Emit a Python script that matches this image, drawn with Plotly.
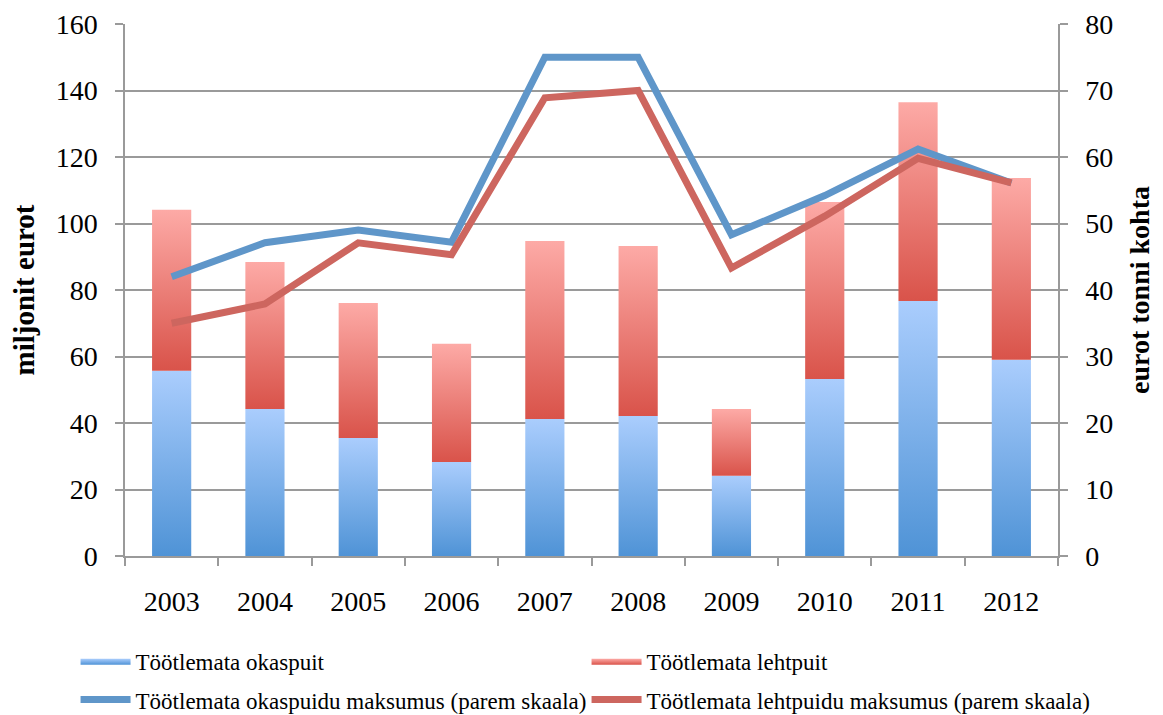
import plotly.graph_objects as go

years = ['2003', '2004', '2005', '2006', '2007', '2008', '2009', '2010', '2011', '2012']
okaspuit = [55.7, 44.2, 35.5, 28.3, 41.2, 42.1, 24.1, 53.2, 76.7, 59.0]
lehtpuit = [48.4, 44.2, 40.6, 35.5, 53.5, 51.1, 20.1, 53.3, 59.8, 54.7]
okas_hind = [42.0, 47.1, 49.0, 47.2, 75.0, 75.0, 48.3, 54.2, 61.2, 56.1]
leht_hind = [35.0, 37.9, 47.1, 45.3, 68.9, 70.0, 43.3, 51.1, 59.8, 56.1]

FONT = 'Liberation Serif'
BAR_W = 0.42
BLUE_SCALE = [[0, '#4f93d6'], [1, '#aacdfd']]
RED_SCALE = [[0, '#d9534a'], [1, '#fdaaa6']]

fig = go.Figure()


def add_bar(i, base, top, name, scale, show):
    x0, x1 = i - BAR_W / 2, i + BAR_W / 2
    fig.add_trace(go.Scatter(
        x=[x0, x1, x1, x0, x0], y=[base, base, top, top, base],
        mode='lines', line=dict(width=0), fill='toself',
        fillgradient=dict(type='vertical', colorscale=scale),
        name=name, legendgroup=name, showlegend=show, hoverinfo='skip',
        legend='legend'))


for i in range(len(years)):
    add_bar(i, 0, okaspuit[i], 'Töötlemata okaspuit', BLUE_SCALE, i == 0)
for i in range(len(years)):
    add_bar(i, okaspuit[i], okaspuit[i] + lehtpuit[i], 'Töötlemata lehtpuit', RED_SCALE, i == 0)

xs = list(range(len(years)))
fig.add_trace(go.Scatter(x=xs, y=okas_hind, yaxis='y2', mode='lines',
                         line=dict(color='#5f96c9', width=7), legend='legend2',
                         name='Töötlemata okaspuidu maksumus (parem skaala)'))
fig.add_trace(go.Scatter(x=xs, y=leht_hind, yaxis='y2', mode='lines',
                         line=dict(color='#cd665f', width=7), legend='legend2',
                         name='Töötlemata lehtpuidu maksumus (parem skaala)'))

axis_common = dict(showline=True, linecolor='#9a9a9a', linewidth=1.5, automargin=False,
                   ticks='outside', ticklen=8, tickcolor='#9a9a9a', tickwidth=1.5,
                   ticklabelstandoff=12,
                   tickfont=dict(family=FONT, size=28, color='black'))

legend_common = dict(orientation='h', x=-0.053, xanchor='left', yanchor='middle',
                     entrywidth=446, itemwidth=50, font=dict(family=FONT, size=23))

# page body has an 8px margin, so the figure is sized to fit the window
fig.update_layout(
    width=1155, height=707,
    margin=dict(l=117, r=105, t=16, b=159, autoexpand=False),
    plot_bgcolor='white', paper_bgcolor='white',
    font=dict(family=FONT, color='black'),
    xaxis=dict(range=[-0.5, 9.5], tickvals=xs, ticktext=years, showgrid=False,
               zeroline=False, showline=True, linecolor='#9a9a9a', linewidth=1.5,
               ticks='', automargin=False, ticklabelstandoff=20,
               tickfont=dict(family=FONT, size=28, color='black'),
               minor=dict(tickvals=[k - 0.5 for k in range(len(years) + 1)],
                          ticks='outside', ticklen=8, tickcolor='#9a9a9a', tickwidth=1.5)),
    yaxis=dict(range=[0, 160], dtick=20, showgrid=True, gridcolor='#9a9a9a', gridwidth=1.5,
               zeroline=False,
               title=dict(text='<b>miljonit eurot</b>', font=dict(family=FONT, size=29), standoff=14),
               **axis_common),
    yaxis2=dict(range=[0, 80], dtick=10, overlaying='y', side='right', showgrid=False,
                zeroline=False,
                title=dict(text='<b>eurot tonni kohta</b>', font=dict(family=FONT, size=28), standoff=17),
                **axis_common),
    legend=dict(y=-0.197, **legend_common),
    legend2=dict(y=-0.27, **legend_common),
)

fig.write_html('out.html')
